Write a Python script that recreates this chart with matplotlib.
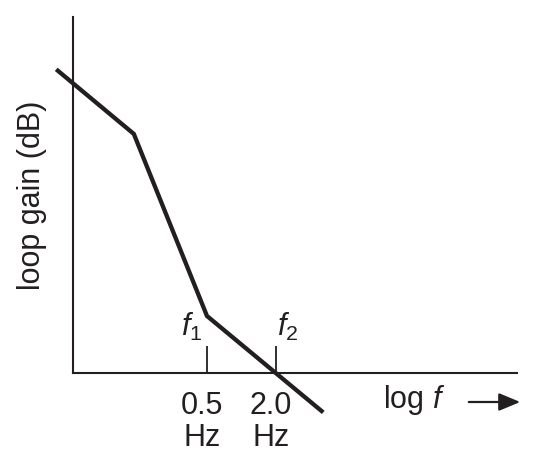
import matplotlib
matplotlib.use("Agg")
import matplotlib.pyplot as plt
import matplotlib.transforms as mtransforms

plt.rcParams['font.family'] = ['Liberation Sans', 'DejaVu Sans']
plt.rcParams['mathtext.fontset'] = 'custom'
plt.rcParams['mathtext.it'] = 'Liberation Sans:italic'
plt.rcParams['mathtext.rm'] = 'Liberation Sans'

# Data (frequency in Hz, loop gain in dB)
freqs = [0.025, 0.115, 0.5, 5.0]
gain_db = [63.6, 50.3, 12.0, -8.0]
tick_freqs = [0.5, 2.0]
tick_labels = ["0.5\nHz", "2.0\nHz"]
corner_labels = [r"$f_1$", r"$f_2$"]

INK = '#231f20'
FS = 22

fig = plt.figure(figsize=(5.35, 4.61), dpi=100)
ax = fig.add_axes([73/535, 88/461, 444/535, 356/461])
ax.set_xscale('log')
ax.set_xlim(10**-1.47, 10**2.404)
ax.set_ylim(0, 74.9)

ax.plot(freqs, gain_db, color=INK, lw=3.1, clip_on=False, solid_joinstyle='miter')

for s in ['top', 'right']:
    ax.spines[s].set_visible(False)
for s in ['left', 'bottom']:
    ax.spines[s].set_linewidth(1.5)
    ax.spines[s].set_color(INK)

ax.set_yticks([])
ax.minorticks_off()
ax.set_xticks(tick_freqs)
ax.set_xticklabels(tick_labels, fontsize=FS, linespacing=1.1)
ax.tick_params(axis='x', which='major', direction='in', length=19.5, width=1.3,
               color=INK, pad=13, labelcolor=INK)
ax.tick_params(axis='x', which='minor', length=0)
shift = mtransforms.ScaledTranslation(-5/100, 0, fig.dpi_scale_trans)
for lbl in ax.get_xticklabels():
    lbl.set_transform(lbl.get_transform() + shift)

offsets = [-15, 12]
for f, lab, dx in zip(tick_freqs, corner_labels, offsets):
    ax.annotate(lab, xy=(f, 0), xytext=(dx, 46), textcoords='offset pixels',
                ha='center', va='center', fontsize=FS, color=INK)

ax.set_ylabel("loop gain (dB)", fontsize=FS, color=INK, labelpad=19)

fig.text(414/535, 1 - 400/461, r"log $f$", fontsize=FS, ha='center', va='center', color=INK)
fig.patches.append(matplotlib.patches.FancyArrowPatch(
    (466/535, 1 - 402/461), (523/535, 1 - 402/461), transform=fig.transFigure,
    arrowstyle='-|>,head_length=0.65,head_width=0.27', mutation_scale=20,
    lw=1.6, color=INK))

fig.savefig("out.png", dpi=100)
